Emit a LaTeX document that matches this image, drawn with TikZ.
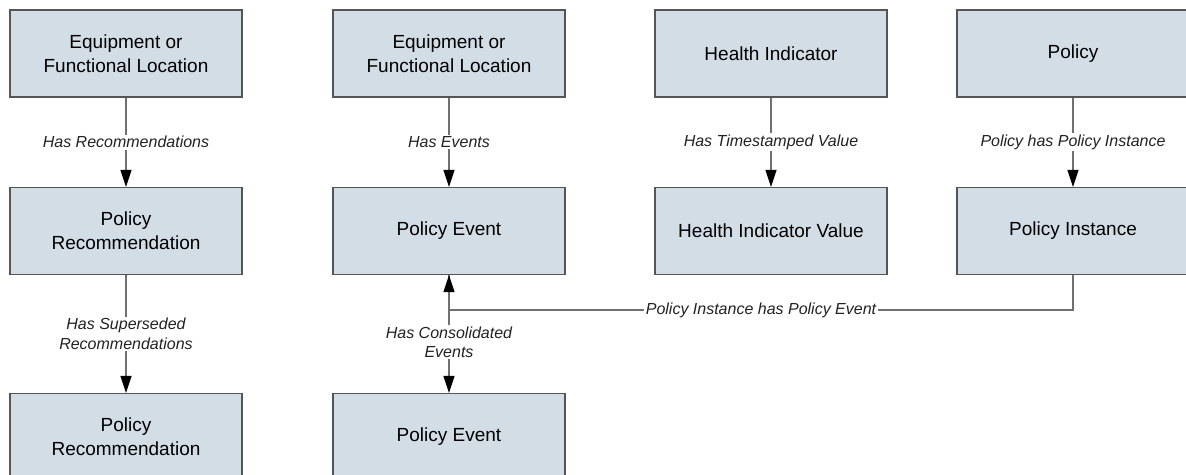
\documentclass[tikz,border=0pt]{standalone}
\usepackage{fontspec}
\setmainfont{Liberation Sans}
\usetikzlibrary{arrows.meta}
\definecolor{boxfill}{HTML}{D3DDE6}
\definecolor{boxborder}{HTML}{555555}
\definecolor{linegray}{HTML}{707070}
\definecolor{lbltext}{HTML}{222222}
\begin{document}
\begin{tikzpicture}[x=1pt,y=-1pt,
 box/.style={draw=boxborder, fill=boxfill, line width=1.1pt, minimum width=232pt, minimum height=87pt, align=center, font=\fontsize{19}{24}\selectfont, inner sep=0pt},
 conn/.style={draw=linegray, line width=1.1pt},
 arr/.style={conn, -{Triangle[length=17pt,width=11pt,color=black]}},
 lbl/.style={fill=white, font=\fontsize{16}{19.5}\selectfont\itshape, inner sep=1.5pt, align=center, text=lbltext}]
\useasboundingbox (0,0) rectangle (1186,474);
\clip (0,0) rectangle (1186,474);
\node[box] (e1) at (126,53.5) {Equipment or\\Functional Location};
\node[box] (e2) at (449,53.5) {Equipment or\\Functional Location};
\node[box] (hi) at (771,53.5) {Health Indicator};
\node[box] (pol) at (1073,53.5) {Policy};
\node[box] (pr1) at (126,231) {Policy\\Recommendation};
\node[box] (pe1) at (449,231) {Policy Event};
\node[box] (hiv) at (771,231) {Health Indicator Value};
\node[box] (pi) at (1073,231) {Policy Instance};
\node[box] (pr2) at (126,437) {Policy\\Recommendation};
\node[box] (pe2) at (449,437) {Policy Event};
\coordinate (j1) at (1073,310);
\coordinate (j2) at (449,310);
\draw[arr] (e1) -- node[lbl]{Has Recommendations} (pr1);
\draw[arr] (pr1) -- node[lbl]{Has Superseded\\Recommendations} (pr2);
\draw[arr] (e2) -- node[lbl]{Has Events} (pe1);
\draw[arr] (hi) -- node[lbl]{Has Timestamped Value} (hiv);
\draw[arr] (pol) -- node[lbl]{Policy has Policy Instance} (pi);
\draw[arr] (pe1) -- node[lbl, pos=0.57]{Has Consolidated\\Events} (pe2);
\draw[arr] (pi.south) -- (j1) -- node[lbl]{Policy Instance has Policy Event} (j2) -- (pe1.south);
\end{tikzpicture}
\end{document}
